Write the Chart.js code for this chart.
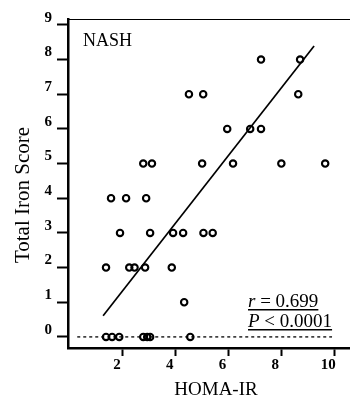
<!DOCTYPE html>
<html>
<head>
<meta charset="utf-8">
<script src="https://cdn.jsdelivr.net/npm/chart.js@4/dist/chart.umd.min.js"></script>
<style>
html,body{margin:0;padding:0;background:#fff;}
#wrap{width:350px;height:402px;}
</style>
</head>
<body>
<div id="wrap"><canvas id="c" width="350" height="402"></canvas></div>
<script>
// HOMA-IR (x) and Total Iron Score (y) for each patient
const homaIR = [7.23, 8.71,
  4.5, 5.04, 8.64,
  5.95, 6.82, 7.23,
  2.77, 3.1, 5.0, 6.17, 8.0, 9.66,
  1.55, 2.12, 2.88,
  1.89, 3.03, 3.9, 4.28, 5.05, 5.4,
  1.36, 2.24, 2.44, 2.84, 3.85,
  4.32,
  1.36, 1.59, 1.86, 2.77, 2.92, 3.03, 4.55];
const ironScore = [8, 8,
  7, 7, 7,
  6, 6, 6,
  5, 5, 5, 5, 5, 5,
  4, 4, 4,
  3, 3, 3, 3, 3, 3,
  2, 2, 2, 2, 2,
  1,
  0, 0, 0, 0, 0, 0, 0];
// regression line end points
const regX = [1.25, 9.24];
const regY = [0.61, 8.39];
// dotted zero reference line
const refX = [0.27, 9.92];
const refY = [0, 0];
// tick labels
const xTicks = [2, 4, 6, 8, 10];
const yTicks = [0, 1, 2, 3, 4, 5, 6, 7, 8, 9];
const panelLabel = 'NASH';
const statR = 'r = 0.699';
const statP = 'P < 0.0001';
const xTitle = 'HOMA-IR';
const yTitle = 'Total Iron Score';

const serif = '"Liberation Serif", "Times New Roman", serif';

const textPlugin = {
  id: 'textPlugin',
  afterDraw(chart) {
    const ctx = chart.ctx;
    const a = chart.chartArea;
    ctx.save();
    // top frame line
    ctx.strokeStyle = '#000';
    ctx.lineWidth = 1;
    ctx.beginPath();
    ctx.moveTo(a.left, 19.5);
    ctx.lineTo(350, 19.5);
    ctx.stroke();
    ctx.fillStyle = '#000';
    // panel label
    ctx.font = '18px ' + serif;
    ctx.textBaseline = 'alphabetic';
    ctx.textAlign = 'left';
    ctx.fillText(panelLabel, 83, 46);
    // statistics
    const x0 = 248;
    const fs = '19px ';
    ctx.font = 'italic ' + fs + serif;
    ctx.fillText('r', x0, 307);
    let w = ctx.measureText('r').width;
    ctx.font = fs + serif;
    ctx.fillText(statR.slice(1), x0 + w, 307);
    let w2 = w + ctx.measureText(statR.slice(1)).width;
    ctx.fillRect(x0, 309, w2, 1.5);
    ctx.font = 'italic ' + fs + serif;
    ctx.fillText('P', x0, 327);
    w = ctx.measureText('P').width;
    ctx.font = fs + serif;
    ctx.fillText(statP.slice(1), x0 + w, 327);
    w2 = w + ctx.measureText(statP.slice(1)).width;
    ctx.fillRect(x0, 329, w2, 1.5);
    // axis titles
    ctx.font = '19px ' + serif;
    ctx.textAlign = 'center';
    ctx.fillText(xTitle, 216, 395);
    ctx.save();
    ctx.translate(29, 195);
    ctx.rotate(-Math.PI / 2);
    ctx.font = '21px ' + serif;
    ctx.fillText(yTitle, 0, 0);
    ctx.restore();
    ctx.restore();
  }
};

const toPts = (xs, ys) => xs.map((x, i) => ({x: x, y: ys[i]}));

new Chart(document.getElementById('c'), {
  type: 'scatter',
  data: {
    datasets: [
      {
        label: 'Patients',
        data: toPts(homaIR, ironScore),
        pointStyle: 'circle',
        pointRadius: 3.2,
        pointBorderWidth: 2.1,
        borderColor: '#000',
        backgroundColor: 'rgba(0,0,0,0)',
        order: 1
      },
      {
        label: 'Regression',
        type: 'line',
        data: toPts(regX, regY),
        borderColor: '#000',
        borderWidth: 1.7,
        pointRadius: 0,
        fill: false,
        order: 2
      },
      {
        label: 'Zero',
        type: 'line',
        data: toPts(refX, refY),
        borderColor: '#000',
        borderWidth: 1.3,
        borderDash: [3, 3],
        pointRadius: 0,
        fill: false,
        order: 3
      }
    ]
  },
  options: {
    responsive: false,
    animation: false,
    devicePixelRatio: 1,
    layout: {autoPadding: false, padding: {top: 19, right: 0, left: 0, bottom: 0}},
    plugins: {legend: {display: false}, tooltip: {enabled: false}},
    scales: {
      x: {
        type: 'linear',
        min: -0.08,
        max: 10.6,
        afterBuildTicks: s => { s.ticks = xTicks.map(v => ({value: v})); },
        afterFit: s => { s.height = 54; s.paddingLeft = 0; s.paddingRight = 0; },
        grid: {display: true, drawOnChartArea: false, drawTicks: true, tickLength: 8, tickWidth: 2, tickColor: '#000'},
        border: {display: true, color: '#000', width: 2.5},
        ticks: {
          color: '#000',
          font: {family: serif, size: 15, weight: 'bold'},
          padding: 0,
          labelOffset: -6,
          maxRotation: 0,
          autoSkip: false,
          callback: v => String(v)
        }
      },
      y: {
        type: 'linear',
        min: -0.32,
        max: 9.17,
        afterBuildTicks: s => { s.ticks = yTicks.map(v => ({value: v})); },
        afterFit: s => { s.width = 68; s.paddingTop = 0; s.paddingBottom = 0; },
        grid: {display: true, drawOnChartArea: false, drawTicks: true, tickLength: 11, tickWidth: 2, tickColor: '#000'},
        border: {display: true, color: '#000', width: 2.5},
        ticks: {
          color: '#000',
          font: {family: serif, size: 15, weight: 'bold'},
          padding: 5,
          labelOffset: -7,
          autoSkip: false,
          callback: v => String(v)
        }
      }
    }
  },
  plugins: [textPlugin]
});
</script>
</body>
</html>
